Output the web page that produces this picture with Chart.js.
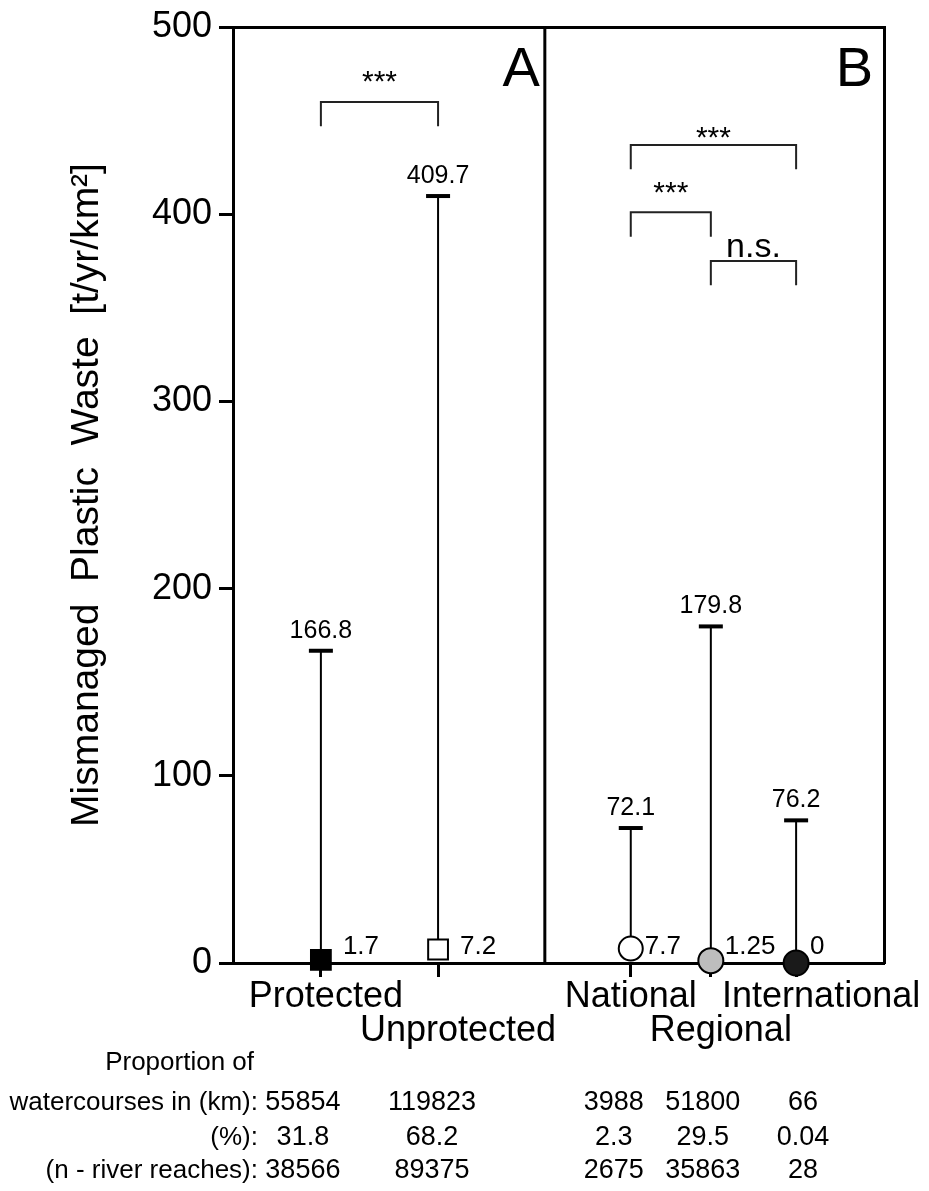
<!DOCTYPE html>
<html>
<head>
<meta charset="utf-8">
<title>Mismanaged plastic waste</title>
<script src="https://cdn.jsdelivr.net/npm/chart.js@4.4.1/dist/chart.umd.min.js"></script>
<style>
  html, body { margin: 0; padding: 0; background: #fff; }
  #wrap { width: 929px; height: 1191px; }
</style>
</head>
<body>
<div id="wrap"><canvas id="myChart" width="929" height="1191"></canvas></div>
<script>
// data
const groups = ['Protected', 'Unprotected', 'National', 'Regional', 'International'];
const medians = [1.7, 7.2, 7.7, 1.25, 0];
const maxima = [166.8, 409.7, 72.1, 179.8, 76.2];
const lengthKm = ['55854', '119823', '3988', '51800', '66'];
const sharePct = ['31.8', '68.2', '2.3', '29.5', '0.04'];
const reaches = ['38566', '89375', '2675', '35863', '28'];
const yTicks = [0, 100, 200, 300, 400, 500];
const panels = ['A', 'B'];

// pairwise tests: group indices, result, bracket height (t/yr/km2)
const sigPairs = [[0, 1], [2, 4], [2, 3], [3, 4]];
const sigText = ['***', '***', '***', 'n.s.'];
const sigLevel = [460, 437, 401, 375];

const yTitle = 'Mismanaged  Plastic  Waste  [t/yr/km\u00B2]';
const rowTitles = ['watercourses in (km):', '(%):', '(n - river reaches):'];

// layout (0-100 horizontal axis)
const xPos = [13.5, 31.5, 61.1, 73.4, 86.5];
const panelSplit = 47.9;
const labelNudge = [1, 4, 0, 2, 5];       // leading spaces on the axis labels
const labelDrop = [false, true, false, true, false];
const markerStyle = ['rect', 'rect', 'circle', 'circle', 'circle'];
const markerFill = ['#000000', '#ffffff', '#ffffff', '#bdbdbd', '#1a1a1a'];
const markerSize = [14, 14, 12, 12.5, 12.5];
const sigLift = [11, -2, 10, 4];
const colShift = [-18, -6, -17, -8, 7];
const rowY = [1103, 1138, 1171];

const FONT = '"Liberation Sans", Arial, Helvetica, sans-serif';
Chart.defaults.font.family = FONT;
Chart.defaults.color = '#000';

const whiskers = groups.map((g, i) => ({
    data: [{ x: xPos[i], y: medians[i] }, { x: xPos[i], y: maxima[i] }],
    showLine: true, borderColor: '#000', borderWidth: 2, pointRadius: 0, order: 3
}));

const brackets = sigPairs.map((p, k) => {
    const a = xPos[p[0]], b = xPos[p[1]], h = sigLevel[k];
    return {
        data: [{ x: a, y: h - 13 }, { x: a, y: h }, { x: b, y: h }, { x: b, y: h - 13 }],
        showLine: true, borderColor: '#222', borderWidth: 2, pointRadius: 0, order: 4
    };
});

const divider = {
    data: [{ x: panelSplit, y: 0 }, { x: panelSplit, y: 500 }],
    showLine: true, borderColor: '#000', borderWidth: 3, pointRadius: 0, order: 5
};

const caps = {
    data: groups.map((g, i) => ({ x: xPos[i], y: maxima[i] })),
    pointStyle: 'line', pointRadius: 12, pointBorderWidth: 4, pointBorderColor: '#000',
    showLine: false, order: 1
};

const markers = {
    data: groups.map((g, i) => ({ x: xPos[i], y: medians[i] })),
    pointStyle: markerStyle, pointRadius: markerSize, pointBackgroundColor: markerFill,
    pointBorderColor: '#000', pointBorderWidth: 2, showLine: false, clip: false, order: 0
};

const whiteBg = {
    id: 'whiteBg',
    beforeDraw(chart) {
        const ctx = chart.ctx;
        ctx.save();
        ctx.fillStyle = '#fff';
        ctx.fillRect(0, 0, chart.width, chart.height);
        ctx.restore();
    }
};

const annotate = {
    id: 'annotate',
    afterDatasetsDraw(chart) {
        const { ctx, chartArea } = chart;
        const x = chart.scales.x, y = chart.scales.y;
        ctx.save();
        ctx.fillStyle = '#000';

        // maximum above each cap
        ctx.font = '25px ' + FONT;
        ctx.textAlign = 'center';
        ctx.textBaseline = 'middle';
        groups.forEach((g, i) => {
            ctx.fillText(String(maxima[i]), x.getPixelForValue(xPos[i]), y.getPixelForValue(maxima[i]) - 20);
        });

        // median next to the marker
        ctx.font = '26px ' + FONT;
        ctx.textAlign = 'left';
        groups.forEach((g, i) => {
            const gap = markerStyle[i] === 'rect' ? 22 : 14;
            ctx.fillText(String(medians[i]), x.getPixelForValue(xPos[i]) + gap, chartArea.bottom - 16);
        });

        // significance
        ctx.textAlign = 'center';
        ctx.textBaseline = 'alphabetic';
        sigPairs.forEach((p, k) => {
            const cx = (x.getPixelForValue(xPos[p[0]]) + x.getPixelForValue(xPos[p[1]])) / 2;
            ctx.font = (sigText[k] === 'n.s.' ? '34px ' : '30px ') + FONT;
            ctx.fillText(sigText[k], cx, y.getPixelForValue(sigLevel[k]) - sigLift[k]);
        });

        // panel letters
        ctx.font = '56px ' + FONT;
        ctx.textAlign = 'right';
        ctx.fillText(panels[0], x.getPixelForValue(panelSplit) - 5, 86);
        ctx.fillText(panels[1], chartArea.right - 11, 86);

        // table under the axis
        ctx.font = '26px ' + FONT;
        ctx.textBaseline = 'middle';
        ctx.fillText('Proportion of', 254, 1063);
        rowTitles.forEach((t, r) => ctx.fillText(t, 258, rowY[r]));
        ctx.font = '27px ' + FONT;
        ctx.textAlign = 'center';
        [lengthKm, sharePct, reaches].forEach((row, r) => {
            row.forEach((v, i) => {
                ctx.fillText(v, x.getPixelForValue(xPos[i]) + colShift[i], rowY[r]);
            });
        });
        ctx.restore();
    }
};

const ctx = document.getElementById('myChart').getContext('2d');
const myChart = new Chart(ctx, {
    type: 'scatter',
    data: { datasets: [markers, caps, ...whiskers, ...brackets, divider] },
    options: {
        responsive: false,
        animation: false,
        devicePixelRatio: 1,
        layout: { padding: { top: 27, right: 45, bottom: 0, left: 0 } },
        plugins: { legend: { display: false }, tooltip: { enabled: false } },
        scales: {
            x: {
                type: 'linear', position: 'bottom', min: 0, max: 100, offset: false,
                afterBuildTicks: s => { s.ticks = xPos.map(v => ({ value: v })); },
                afterFit: s => { s.height = 228; s.paddingLeft = 0; s.paddingRight = 0; },
                ticks: {
                    autoSkip: false, maxRotation: 0, minRotation: 0, padding: 3, color: '#000',
                    font: { size: 36, lineHeight: 0.95 },
                    callback: (v, i) => {
                        const name = ' '.repeat(labelNudge[i]) + groups[i];
                        return labelDrop[i] ? ['', name] : name;
                    }
                },
                grid: { drawOnChartArea: false, drawTicks: true, tickLength: 14, tickWidth: 3, tickColor: '#000' },
                border: { display: true, color: '#000', width: 3 }
            },
            y: {
                type: 'linear', position: 'left', min: 0, max: 500,
                afterBuildTicks: s => { s.ticks = yTicks.map(v => ({ value: v })); },
                afterFit: s => { s.width = 233; s.paddingTop = 0; s.paddingBottom = 0; },
                ticks: { padding: 7, color: '#000', font: { size: 36 } },
                grid: { drawOnChartArea: false, tickLength: 14, tickWidth: 3, tickColor: '#000' },
                border: { display: true, color: '#000', width: 3 },
                title: { display: true, text: yTitle, color: '#000', font: { size: 39 }, padding: { top: 64, bottom: 0 } }
            },
            x2: {
                type: 'linear', position: 'top', min: 0, max: 100,
                ticks: { display: false },
                grid: { drawOnChartArea: false, drawTicks: false },
                border: { display: true, color: '#000', width: 3 },
                afterFit: s => { s.height = 0; }
            },
            y2: {
                type: 'linear', position: 'right', min: 0, max: 500,
                ticks: { display: false },
                grid: { drawOnChartArea: false, drawTicks: false },
                border: { display: true, color: '#000', width: 3 },
                afterFit: s => { s.width = 0; }
            }
        }
    },
    plugins: [whiteBg, annotate]
});
</script>
</body>
</html>
